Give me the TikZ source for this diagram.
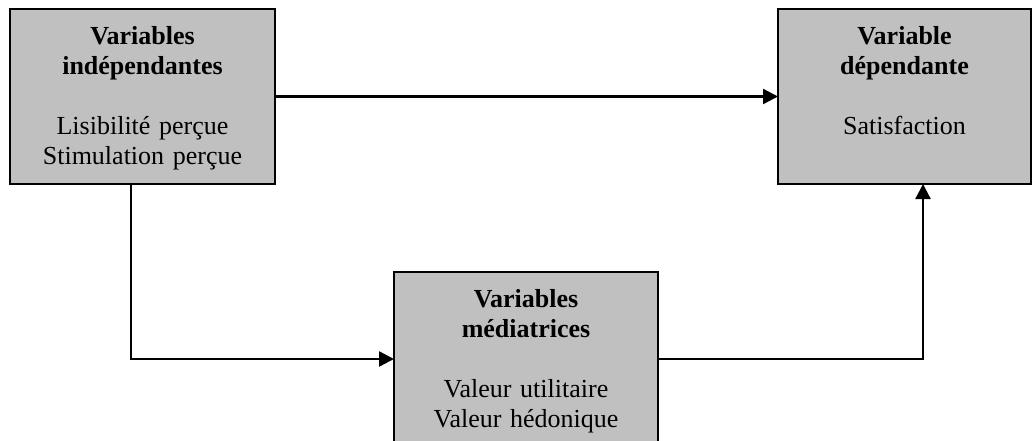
\documentclass[tikz,border=0pt]{standalone}
\usepackage{fontspec}
\setmainfont{Liberation Serif}
\usetikzlibrary{calc,arrows.meta}
\definecolor{boxgray}{RGB}{192,192,192}
\tikzset{
  box/.style={draw=black, fill=boxgray, line width=2pt, outer sep=0pt,
    inner sep=0pt, anchor=north west},
  txt/.style={anchor=base, inner sep=0pt, align=center, text width=240pt,
    font=\fontsize{26}{30}\selectfont},
  flow/.style={line width=2.3pt, -{Triangle[length=15pt,width=15pt]}}
}
\begin{document}
\begin{tikzpicture}[x=1pt,y=-1pt]
  \useasboundingbox (0,0) rectangle (1032,441);
  \clip (0,0) rectangle (1032,441);
  % the three variable boxes
  \node[box, minimum width=265pt, minimum height=175pt] (L) at (10,9) {};
  \node[box, minimum width=253pt, minimum height=175pt] (R) at (778,9) {};
  \node[box, minimum width=264pt, minimum height=183pt] (M) at (394,272) {};
  % box contents
  \node[txt] (Lt) at ($(L.north)+(0,36)$)
    {\textbf{Variables}\\\textbf{indépendantes}\\[30pt]Lisibilité perçue\\Stimulation perçue};
  \node[txt] (Rt) at ($(R.north)+(0,36)$)
    {\textbf{Variable}\\\textbf{dépendante}\\[30pt]Satisfaction};
  \node[txt] (Mt) at ($(M.north)+(0,35)$)
    {\textbf{Variables}\\\textbf{médiatrices}\\[30pt]Valeur utilitaire\\Valeur hédonique};
  % bend points of the two routed connectors
  \coordinate (k1) at (131,359);
  \coordinate (k2) at (923,359);
  % connectors
  \draw[flow] (L.east) -- (R.west);
  \draw[flow] (L.south -| k1) |- (M.west |- k1);
  \draw[flow] (M.east |- k2) -| (R.south -| k2);
\end{tikzpicture}
\end{document}
